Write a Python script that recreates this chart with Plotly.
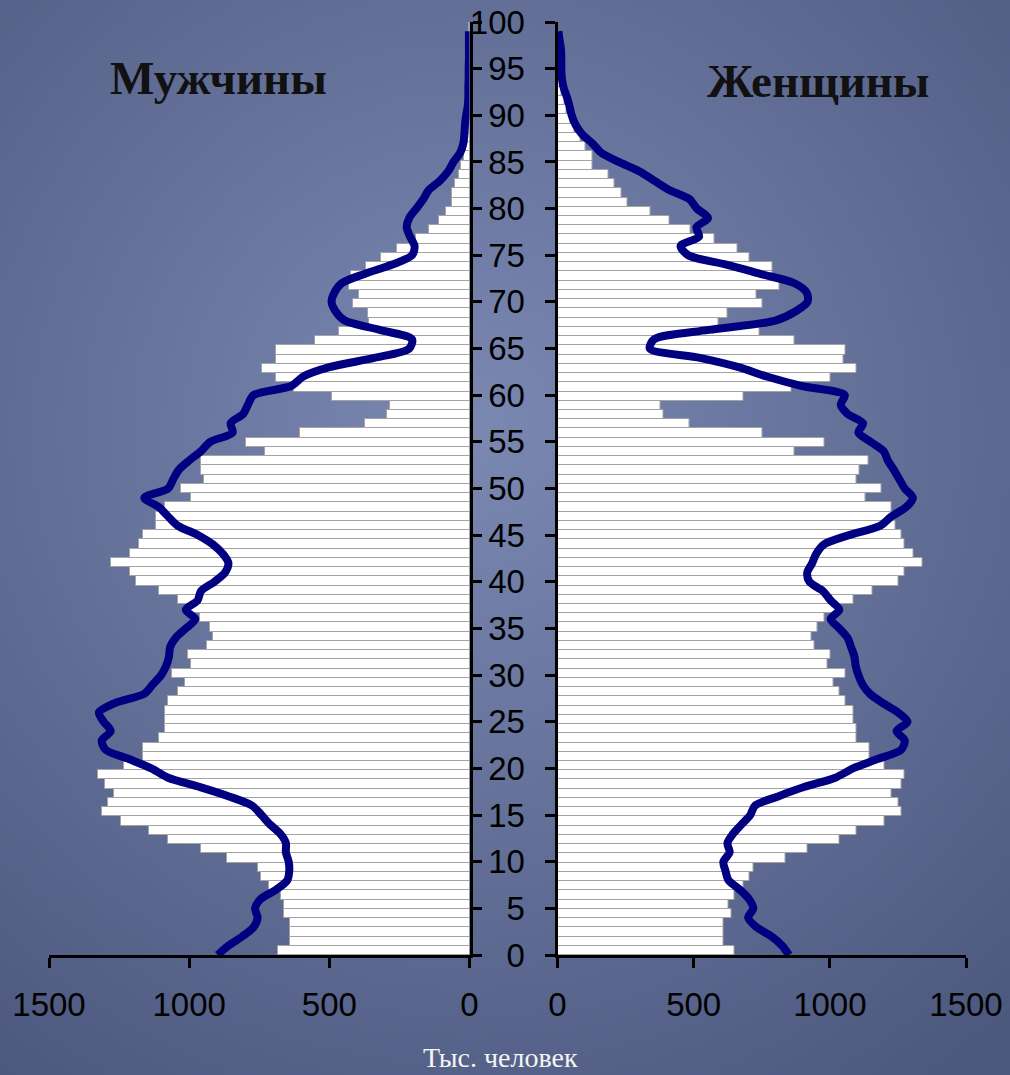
import base64
import struct
import zlib

import numpy as np
import plotly.graph_objects as go

# ---------------- data ----------------
ages_line = list(range(0, 100))          # line points (age in years)
bar_index = list(range(0, 101))          # bar categories (0..100)
y_ticks = list(range(0, 101, 5))
x_ticks = [0, 500, 1000, 1500]

male_bars = [683, 639, 639, 639, 661, 661, 671, 715, 742, 754,
             865, 958, 1075, 1142, 1244, 1312, 1288, 1267, 1300, 1326,
             1233, 1164, 1164, 1107, 1087, 1085, 1085, 1074, 1040, 1015,
             1062, 992, 1003, 935, 914, 926, 961, 997, 1040, 1108,
             1190, 1211, 1279, 1211, 1178, 1163, 1118, 1118, 1086, 992,
             1029, 947, 958, 958, 731, 797, 605, 372, 293, 284,
             489, 627, 691, 739, 691, 691, 552, 466, 360, 362,
             416, 394, 430, 424, 370, 315, 258, 192, 145, 109,
             85, 62, 62, 50, 38, 30, 20, 12, 9, 7,
             5, 4, 3, 2, 1.5, 1, 1, 0.5, 0.5, 0.5, 0.5]

female_bars = [649, 611, 611, 611, 639, 627, 649, 682, 706, 719,
               837, 918, 1037, 1098, 1202, 1263, 1251, 1226, 1263, 1275,
               1202, 1147, 1147, 1098, 1098, 1086, 1086, 1059, 1036, 1014,
               1059, 991, 1001, 942, 933, 955, 979, 1030, 1088, 1157,
               1253, 1275, 1342, 1309, 1275, 1263, 1240, 1239, 1225, 1132,
               1190, 1098, 1110, 1143, 872, 979, 753, 486, 388, 379,
               684, 860, 1004, 1098, 1049, 1058, 872, 741, 590, 625,
               753, 731, 814, 790, 790, 706, 661, 575, 490, 410,
               342, 257, 235, 211, 189, 128, 128, 101, 83, 62,
               46, 34, 25, 15, 10, 7, 5, 3, 2, 1, 1]

male_line = [898, 860, 810, 770, 756, 765, 745, 690, 650, 643,
             645, 655, 655, 675, 712, 742, 775, 858, 961, 1075,
             1135, 1215, 1298, 1312, 1280, 1305, 1322, 1265, 1160, 1130,
             1100, 1082, 1072, 1068, 1048, 1012, 978, 1012, 970, 958,
             910, 872, 860, 880, 915, 968, 1040, 1075, 1108, 1160,
             1075, 1057, 1037, 1000, 958, 925, 845, 852, 807, 790,
             771, 635, 593, 500, 340, 215, 205, 320, 445, 478,
             492, 482, 456, 375, 275, 205, 196, 212, 224, 215,
             190, 165, 145, 105, 76, 57, 33, 22, 18, 16,
             12, 6, 4, 4, 3, 3, 2, 2, 2, 2]

female_line = [850, 825, 785, 730, 700, 719, 703, 670, 628, 617,
               609, 632, 624, 645, 676, 708, 725, 810, 905, 1020,
               1085, 1175, 1262, 1275, 1245, 1285, 1250, 1195, 1147, 1120,
               1105, 1095, 1090, 1078, 1065, 1035, 1003, 1035, 1003, 975,
               925, 917, 935, 950, 978, 1070, 1185, 1226, 1280, 1305,
               1275, 1255, 1235, 1213, 1198, 1150, 1105, 1122, 1065, 1040,
               1055, 895, 768, 665, 523, 339, 355, 555, 800, 875,
               918, 915, 870, 745, 620, 480, 452, 520, 510, 553,
               512, 485, 410, 355, 300, 225, 160, 128, 89, 66,
               52, 44, 34, 22, 16, 14, 14, 13, 8, 3]

title_left = "Мужчины"
title_right = "Женщины"
unit_label = "Тыс. человек"

# ---------------- layout helpers ----------------
W, H = 1010, 1075


def px_x(p):
    return p / W


def px_y(p):
    return 1 - p / H


def gradient_png():
    w, h = 202, 215
    xs = (np.arange(w) + 0.5) * W / w
    ys = (np.arange(h) + 0.5) * H / h
    X, Y = np.meshgrid(xs, ys)
    d = np.sqrt(((X - 470) / 800.0) ** 2 + ((Y - 430) / 800.0) ** 2)
    d = np.clip(d, 0, 1)
    c0 = np.array([123, 136, 178], dtype=float)
    c1 = np.array([76, 88, 126], dtype=float)
    img = c0 + (c1 - c0) * d[..., None]
    img = np.clip(np.round(img), 0, 255).astype(np.uint8)
    raw = b"".join(b"\x00" + img[r].tobytes() for r in range(h))

    def chunk(tag, data):
        return (struct.pack(">I", len(data)) + tag + data +
                struct.pack(">I", zlib.crc32(tag + data) & 0xFFFFFFFF))

    png = (b"\x89PNG\r\n\x1a\n" +
           chunk(b"IHDR", struct.pack(">IIBBBBB", w, h, 8, 2, 0, 0, 0)) +
           chunk(b"IDAT", zlib.compress(raw, 9)) +
           chunk(b"IEND", b""))
    return "data:image/png;base64," + base64.b64encode(png).decode()


bar_y = [i + 0.5 for i in bar_index]
line_col = "#000080"
bar_line = "#a3a3a3"

fig = go.Figure()
fig.add_trace(go.Bar(x=male_bars, y=bar_y, orientation="h", width=1,
                     marker=dict(color="white", line=dict(color=bar_line, width=1)),
                     xaxis="x", yaxis="y", showlegend=False))
fig.add_trace(go.Bar(x=female_bars, y=bar_y, orientation="h", width=1,
                     marker=dict(color="white", line=dict(color=bar_line, width=1)),
                     xaxis="x2", yaxis="y2", showlegend=False))
fig.add_trace(go.Scatter(x=male_line, y=ages_line, mode="lines",
                         line=dict(color=line_col, width=8, shape="spline", smoothing=0.8),
                         xaxis="x", yaxis="y3", showlegend=False))
fig.add_trace(go.Scatter(x=female_line, y=ages_line, mode="lines",
                         line=dict(color=line_col, width=8, shape="spline", smoothing=0.8),
                         xaxis="x2", yaxis="y4", showlegend=False))

ydom = [px_y(955), px_y(22)]
tickfont = dict(family="Liberation Sans, Arial, sans-serif", size=33, color="black")
common_x = dict(showgrid=False, zeroline=False, showline=True, linecolor="black",
                linewidth=3, ticks="outside", ticklen=10, tickwidth=3,
                tickcolor="black", tickvals=x_ticks, tickfont=tickfont,
                ticklabelstandoff=8, fixedrange=True, automargin=False)

fig.update_layout(
    template="none",
    width=W, height=H,
    margin=dict(l=0, r=0, t=0, b=0, pad=0, autoexpand=False),
    paper_bgcolor="#66739c",
    plot_bgcolor="rgba(0,0,0,0)",
    barmode="overlay", bargap=0,
    showlegend=False,
    xaxis=dict(domain=[px_x(49), px_x(469.5)], range=[1500, 0], anchor="y", **common_x),
    xaxis2=dict(domain=[px_x(557.5), px_x(966)], range=[0, 1500], anchor="y2", **common_x),
    yaxis=dict(domain=ydom, range=[0, 101], anchor="x", visible=False, fixedrange=True,
               automargin=False),
    yaxis2=dict(domain=ydom, range=[0, 101], anchor="x2", visible=False, fixedrange=True,
                automargin=False),
    yaxis3=dict(overlaying="y", anchor="x", side="right", range=[0, 100],
                showgrid=False, zeroline=False, showline=True, linecolor="black",
                linewidth=3, ticks="outside", ticklen=9, tickwidth=3, tickcolor="black",
                tickvals=y_ticks, showticklabels=False, fixedrange=True, automargin=False),
    yaxis4=dict(overlaying="y2", anchor="x2", side="left", range=[0, 100],
                showgrid=False, zeroline=False, showline=True, linecolor="black",
                linewidth=3, ticks="outside", ticklen=10, tickwidth=3, tickcolor="black",
                tickvals=y_ticks, tickfont=tickfont, ticklabelstandoff=13,
                fixedrange=True, automargin=False),
    images=[dict(source=gradient_png(), xref="paper", yref="paper", x=0, y=1,
                 sizex=1, sizey=1, xanchor="left", yanchor="top",
                 sizing="stretch", layer="below")],
    annotations=[
        dict(text="<b>" + title_left + "</b>", xref="paper", yref="paper",
             x=px_x(218), y=px_y(78), showarrow=False, xanchor="center", yanchor="middle",
             font=dict(family="Liberation Serif, Times New Roman, serif", size=47, color="#111111")),
        dict(text="<b>" + title_right + "</b>", xref="paper", yref="paper",
             x=px_x(818), y=px_y(81), showarrow=False, xanchor="center", yanchor="middle",
             font=dict(family="Liberation Serif, Times New Roman, serif", size=47, color="#111111")),
        dict(text=unit_label, xref="paper", yref="paper",
             x=px_x(500), y=px_y(1074), showarrow=False, xanchor="center", yanchor="bottom",
             borderpad=0,
             font=dict(family="Liberation Serif, Times New Roman, serif", size=28, color="#f4f4f4")),
    ],
)

fig.write_html("out.html",
               config={"displayModeBar": False},
               post_script="document.body.style.margin='0';document.body.style.overflow='hidden';")
